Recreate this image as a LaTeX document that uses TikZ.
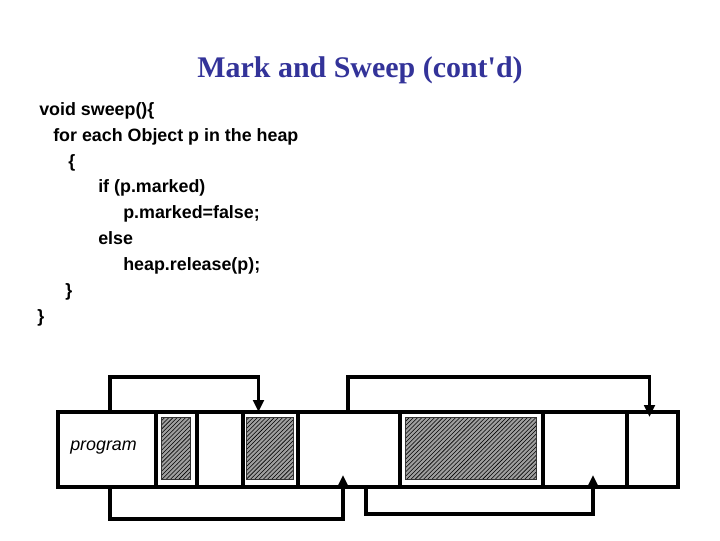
\documentclass[tikz,border=0pt]{standalone}
\usepackage{fontspec}
\setmainfont{Liberation Sans}
\newfontfamily\titlefont{Liberation Serif}
\usepackage{tikz}
\usetikzlibrary{arrows.meta,positioning,fit,calc,patterns}
\definecolor{slideblue}{RGB}{51,51,153}

\tikzset{
  heapcell/.style={draw, line width=2.2pt, inner sep=0pt, outer sep=0pt},
  usedblk/.style={draw=black!80, line width=0.6pt, inner sep=0pt, outer sep=0pt,
    preaction={fill=gray!75}, pattern=north east lines},
  link/.style={line width=2.2pt, -{Triangle[width=7.5pt,length=8.5pt]}},
  code/.style={anchor=base west, inner sep=0pt, font=\fontsize{12.7}{15}\selectfont\bfseries}
}

\begin{document}
\begin{tikzpicture}[x=0.025cm, y=-0.025cm]
\useasboundingbox (0,0) rectangle (720,540);
% Title
\node[anchor=base, inner sep=0pt, text=slideblue,
  font=\titlefont\fontsize{21.3}{24}\selectfont\bfseries] (title) at (360,77)
  {Mark and Sweep (cont'd)};
% Code
\node[code] (l1) at (39,115) {void sweep()\{};
\node[code] (l2) at (53,141) {for each Object p in the heap};
\node[code] (l3) at (68,167) {\{};
\node[code] (l4) at (98,192) {if (p.marked)};
\node[code] (l5) at (123,218) {p.marked=false;};
\node[code] (l6) at (98,244) {else};
\node[code] (l7) at (123,270) {heap.release(p);};
\node[code] (l8) at (65,296) {\}};
\node[code] (l9) at (37,322) {\}};
% Heap cells
\node[heapcell, fit={(58,412) (156,487)}] (prog) {};
\node[heapcell, fit={(156,412) (197,487)}] (blkA) {};
\node[heapcell, fit={(197,412) (243,487)}] (gapA) {};
\node[heapcell, fit={(243,412) (298,487)}] (blkB) {};
\node[heapcell, fit={(298,412) (400,487)}] (freeA) {};
\node[heapcell, fit={(400,412) (543,487)}] (blkC) {};
\node[heapcell, fit={(543,412) (627,487)}] (freeB) {};
\node[heapcell, fit={(627,412) (678,487)}] (lastC) {};
% Live blocks
\node[usedblk, fit={(161,417) (190,479)}] (objA) {};
\node[usedblk, fit={(246,417) (293,479)}] (objB) {};
\node[usedblk, fit={(405,417) (536,479)}] (objC) {};
\node[anchor=base west, inner sep=0pt, font=\fontsize{12.7}{15}\selectfont\itshape]
  (plabel) at (70,450) {program};
% Pointers
\draw[link] ($(prog.north)+(3,0)$) -- ++(0,-35) -| ($(blkB.north)+(-12,0)$);
\draw[link] ($(freeA.north)+(-1,0)$) -- ++(0,-35) -| ($(lastC.north)+(-3,5)$);
\draw[link] ($(prog.south)+(3,0)$) -- ++(0,32) -| ($(freeA.south)+(-6,-12)$);
\draw[link] ($(freeA.south)+(17,0)$) -- ++(0,27) -| ($(freeB.south)+(8,-12)$);
\end{tikzpicture}
\end{document}
